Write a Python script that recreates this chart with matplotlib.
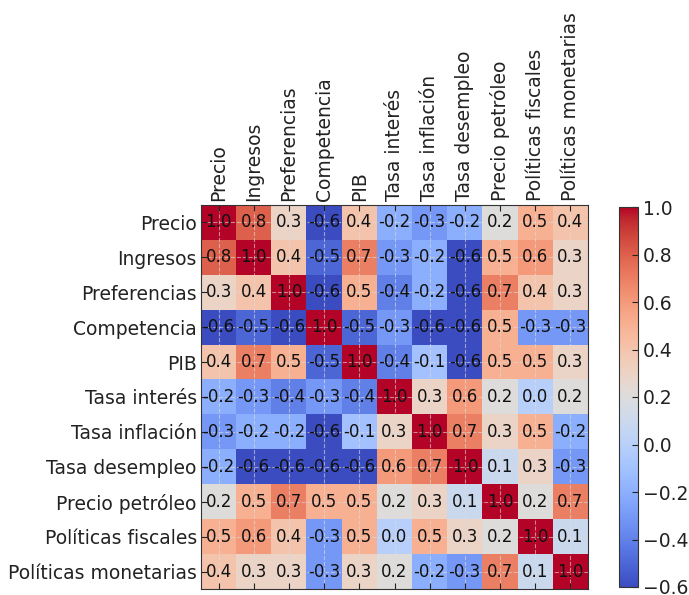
import matplotlib.pyplot as plt
import numpy as np

variables = ["Precio", "Ingresos", "Preferencias", "Competencia", "PIB",
             "Tasa interés", "Tasa inflación", "Tasa desempleo",
             "Precio petróleo", "Políticas fiscales", "Políticas monetarias"]

corr = np.array([
    [1.0, 0.8, 0.3, -0.6, 0.4, -0.2, -0.3, -0.2, 0.2, 0.5, 0.4],
    [0.8, 1.0, 0.4, -0.5, 0.7, -0.3, -0.2, -0.6, 0.5, 0.6, 0.3],
    [0.3, 0.4, 1.0, -0.6, 0.5, -0.4, -0.2, -0.6, 0.7, 0.4, 0.3],
    [-0.6, -0.5, -0.6, 1.0, -0.5, -0.3, -0.6, -0.6, 0.5, -0.3, -0.3],
    [0.4, 0.7, 0.5, -0.5, 1.0, -0.4, -0.1, -0.6, 0.5, 0.5, 0.3],
    [-0.2, -0.3, -0.4, -0.3, -0.4, 1.0, 0.3, 0.6, 0.2, 0.0, 0.2],
    [-0.3, -0.2, -0.2, -0.6, -0.1, 0.3, 1.0, 0.7, 0.3, 0.5, -0.2],
    [-0.2, -0.6, -0.6, -0.6, -0.6, 0.6, 0.7, 1.0, 0.1, 0.3, -0.3],
    [0.2, 0.5, 0.7, 0.5, 0.5, 0.2, 0.3, 0.1, 1.0, 0.2, 0.7],
    [0.5, 0.6, 0.4, -0.3, 0.5, 0.0, 0.5, 0.3, 0.2, 1.0, 0.1],
    [0.4, 0.3, 0.3, -0.3, 0.3, 0.2, -0.2, -0.3, 0.7, 0.1, 1.0],
])

plt.rcParams["xtick.direction"] = "in"
plt.rcParams["ytick.direction"] = "in"
plt.rcParams["font.size"] = 13
plt.rcParams["text.color"] = "#222222"
plt.rcParams["xtick.color"] = "#222222"
plt.rcParams["ytick.color"] = "#222222"
plt.rcParams["axes.edgecolor"] = "#333333"

fig = plt.figure(figsize=(6.89, 5.95), dpi=100)
ax = fig.add_axes([201 / 689, 6 / 595, 387 / 689, 384 / 595])
cax = fig.add_axes([619 / 689, 8 / 595, 19 / 689, 380 / 595])

im = ax.imshow(corr, cmap="coolwarm", vmin=-0.6, vmax=1.0, aspect="auto")
n = len(variables)
ax.set_xticks(range(n))
ax.set_yticks(range(n))
ax.set_xticklabels(variables, rotation=90)
ax.set_yticklabels(variables)
ax.tick_params(top=True, bottom=True, labeltop=True, labelbottom=False,
               length=4, labelsize=13.5, pad=3)
ax.grid(True, linestyle="--", color="#dddddd", alpha=0.6, lw=0.8)

for i in range(n):
    for j in range(n):
        ax.text(j, i, f"{corr[i, j]:.1f}", ha="center", va="center",
                color="#111111", fontsize=12)

cb = fig.colorbar(im, cax=cax, ticks=np.arange(-0.6, 1.01, 0.2))
cb.ax.tick_params(labelsize=13.5, direction="in", length=4)

fig.savefig("out.png", dpi=100)
